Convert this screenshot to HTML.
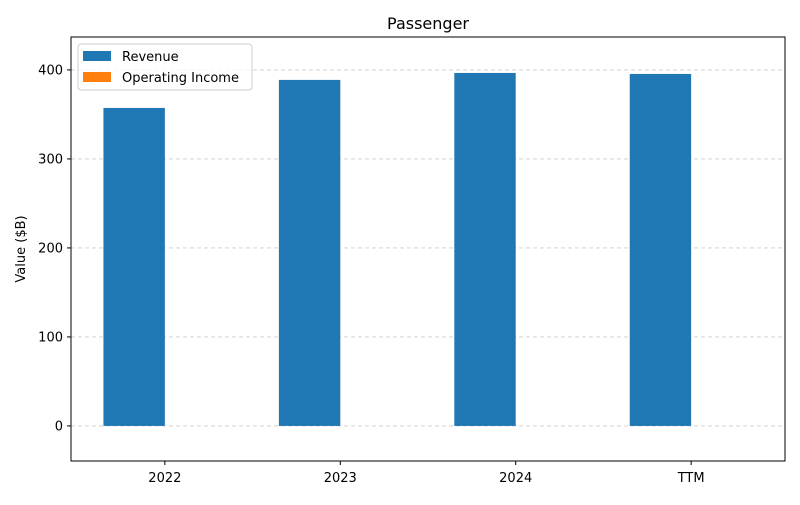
<!DOCTYPE html>
<html><head><meta charset="utf-8"><style>
body{margin:0;background:#fff;font-family:"Liberation Sans","DejaVu Sans",sans-serif;}
svg text{font-family:"DejaVu Sans","Liberation Sans",sans-serif;}
</style></head><body>
<svg id="chart" width="800" height="500" viewBox="0 0 800 500" xmlns="http://www.w3.org/2000/svg">
<rect width="800" height="500" fill="#fff"/>
<text x="428" y="29" font-size="16" text-anchor="middle">Passenger</text>
<g id="grid"></g>
<g id="bars"></g>
<rect x="71" y="37" width="714" height="424" fill="none" stroke="#000" stroke-width="1"/>
<g id="axes"></g>
<text transform="translate(25,249) rotate(-90)" font-size="13" text-anchor="middle">Value ($B)</text>
<g>
<rect x="78" y="44" width="174" height="46" rx="3" fill="#fff" fill-opacity="0.8" stroke="#ccc"/>
<rect x="83" y="51" width="28" height="10" fill="#1f77b4"/>
<text x="122" y="61" font-size="13">Revenue</text>
<rect x="83" y="72" width="28" height="10" fill="#ff7f0e"/>
<text x="122" y="82" font-size="13">Operating Income</text>
</g>
</svg>
<script>
const categories = ["2022","2023","2024","TTM"];
const revenue = [357.3, 388.8, 396.6, 395.5];
const operatingIncome = [0, 0, 0, 0];
const yTicks = [0, 100, 200, 300, 400];

const L=71,R=785,T=37,B=461;
const xMin=-0.535,xMax=3.535,yMin=-39.4,yMax=437;
const xs=v=>L+(v-xMin)/(xMax-xMin)*(R-L);
const ys=v=>B-(v-yMin)/(yMax-yMin)*(B-T);
const NS="http://www.w3.org/2000/svg";
function mk(tag,attrs,parent){const e=document.createElementNS(NS,tag);for(const k in attrs)e.setAttribute(k,attrs[k]);parent.appendChild(e);return e;}
const grid=document.getElementById('grid'),bars=document.getElementById('bars'),axes=document.getElementById('axes');
const w=0.35;
yTicks.forEach(t=>{
  const y=ys(t);
  const g=mk('line',{x1:L,x2:R,y1:y,y2:y,stroke:'#ccc','stroke-dasharray':'4,3','stroke-width':0.8},grid);
  
  
  const tk=mk('line',{x1:L-4,x2:L,y1:y,y2:y,stroke:'#000'},axes);
  
  
  const tx=mk('text',{x:L-8,y:y+4.5,'font-size':13,'text-anchor':'end'},axes);
  tx.textContent=t;
  
  
});
categories.forEach((c,i)=>{
  const y0=ys(0);
  const r=revenue[i], yr=ys(r);
  const b=mk('rect',{x:xs(i-w),y:Math.min(yr,y0),width:xs(i)-xs(i-w),height:Math.abs(y0-yr),fill:'#1f77b4'},bars);
  
  
  const o=operatingIncome[i], yo=ys(o);
  const b2=mk('rect',{x:xs(i),y:Math.min(yo,y0),width:xs(i+w)-xs(i),height:Math.abs(y0-yo),fill:'#ff7f0e'},bars);
  
  
  const x=xs(i);
  const tk=mk('line',{x1:x,x2:x,y1:B,y2:B+4,stroke:'#000'},axes);
  
  
  const tx=mk('text',{x:x,y:B+21,'font-size':13,'text-anchor':'middle'},axes);
  tx.textContent=c;
  
  
});
</script>
</body></html>
